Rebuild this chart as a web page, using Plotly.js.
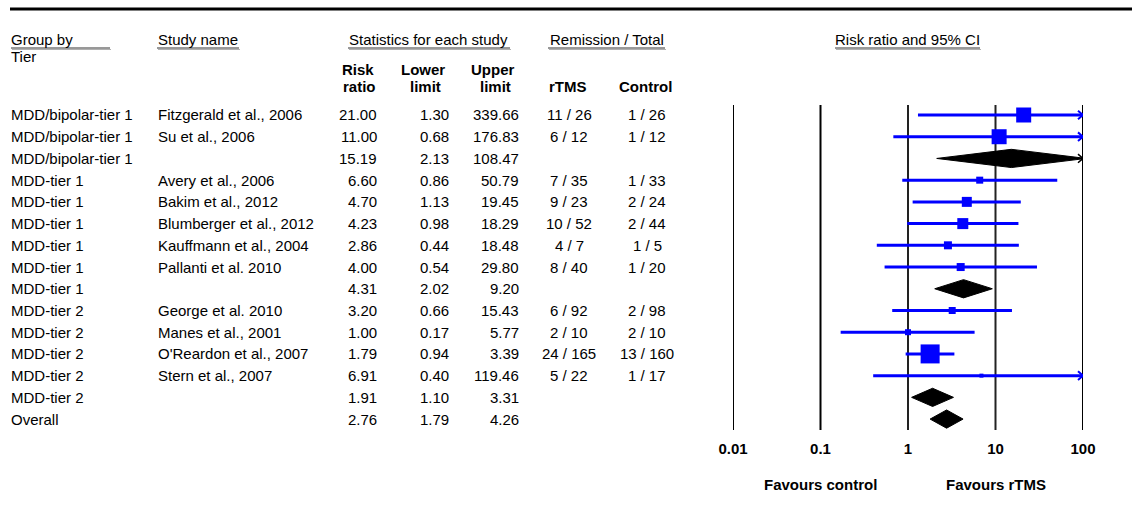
<!DOCTYPE html>
<html>
<head>
<meta charset="utf-8">
<script src="https://cdn.plot.ly/plotly-3.0.1.min.js"></script>
<style>html,body{margin:0;padding:0;background:#fff;}#chart{width:1132px;height:525px;}</style>
</head>
<body>
<div id="chart"></div>
<script>
// ---- data ----
const groups = ["MDD/bipolar-tier 1","MDD/bipolar-tier 1","MDD/bipolar-tier 1","MDD-tier 1","MDD-tier 1","MDD-tier 1","MDD-tier 1","MDD-tier 1","MDD-tier 1","MDD-tier 2","MDD-tier 2","MDD-tier 2","MDD-tier 2","MDD-tier 2","Overall"];
const studies = ["Fitzgerald et al., 2006","Su et al., 2006","","Avery et al., 2006","Bakim et al., 2012","Blumberger et al., 2012","Kauffmann et al., 2004","Pallanti et al. 2010","","George et al. 2010","Manes et al., 2001","O'Reardon et al., 2007","Stern et al., 2007","",""];
const riskRatio = [21.00,11.00,15.19,6.60,4.70,4.23,2.86,4.00,4.31,3.20,1.00,1.79,6.91,1.91,2.76];
const lowerLimit = [1.30,0.68,2.13,0.86,1.13,0.98,0.44,0.54,2.02,0.66,0.17,0.94,0.40,1.10,1.79];
const upperLimit = [339.66,176.83,108.47,50.79,19.45,18.29,18.48,29.80,9.20,15.43,5.77,3.39,119.46,3.31,4.26];
const rtmsRemission = ["11 / 26","6 / 12","","7 / 35","9 / 23","10 / 52","4 / 7","8 / 40","","6 / 92","2 / 10","24 / 165","5 / 22","",""];
const controlRemission = ["1 / 26","1 / 12","","1 / 33","2 / 24","2 / 44","1 / 5","1 / 20","","2 / 98","2 / 10","13 / 160","1 / 17","",""];
const studyWeight = [225,225,0,49,100,121,64,64,0,49,36,361,16,0,0];
const tickValues = [0.01,0.1,1,10,100];
const tickLabels = ["0.01","0.1","1","10","100"];

// ---- layout helpers ----
const W = 1132, H = 525;
const px = x => x / W;
const py = y => 1 - y / H;
const FONT = "Arial, 'Liberation Sans', sans-serif";
const BLUE = "#0000ff";
const n = riskRatio.length;
const xMin = 0.01, xMax = 100;
const decadePx = (1083 - 733) / 4;
const isSummary = studies.map(s => s === "");

// ---- traces ----
const traces = [];
const ciX = [], ciY = [];
const arrowX = [], arrowY = [];
const summaryArrowX = [], summaryArrowY = [];
const arrowLenLog = 5 / decadePx;
const arrowHalf = 0.2;
for (let i = 0; i < n; i++) {
  const over = upperLimit[i] > xMax;
  if (!isSummary[i]) {
    ciX.push(Math.max(lowerLimit[i], xMin), Math.min(upperLimit[i], xMax), null);
    ciY.push(i, i, null);
  }
  if (over) {
    const ax = isSummary[i] ? summaryArrowX : arrowX;
    const ay = isSummary[i] ? summaryArrowY : arrowY;
    const back = xMax / Math.pow(10, arrowLenLog);
    ax.push(back, xMax, back, null);
    ay.push(i - arrowHalf, i, i + arrowHalf, null);
  }
}
traces.push({x: ciX, y: ciY, mode: "lines", line: {color: BLUE, width: 3}, hoverinfo: "skip", cliponaxis: false});
traces.push({x: arrowX, y: arrowY, mode: "lines", line: {color: BLUE, width: 2}, hoverinfo: "skip", cliponaxis: false});

const sqX = [], sqY = [], sqS = [];
for (let i = 0; i < n; i++) {
  if (!isSummary[i]) { sqX.push(riskRatio[i]); sqY.push(i); sqS.push(Math.sqrt(studyWeight[i])); }
}
traces.push({x: sqX, y: sqY, mode: "markers", marker: {symbol: "square", size: sqS, color: BLUE, opacity: 1, line: {width: 0}}, hoverinfo: "x", cliponaxis: false});

const dh = 0.42;
for (let i = 0; i < n; i++) {
  if (!isSummary[i]) continue;
  const L = Math.log10(lowerLimit[i]), M = Math.log10(riskRatio[i]), U = Math.log10(upperLimit[i]);
  const cap = Math.log10(xMax);
  let xs, ys;
  if (U > cap) {
    const f = (U - cap) / (U - M);
    const hh = dh * f;
    xs = [L, M, cap, cap, M, L].map(v => Math.pow(10, v));
    ys = [i, i - dh, i - hh, i + hh, i + dh, i];
  } else {
    xs = [L, M, U, M, L].map(v => Math.pow(10, v));
    ys = [i, i - dh, i, i + dh, i];
  }
  traces.push({x: xs, y: ys, mode: "lines", fill: "toself", fillcolor: "#000", line: {color: "#000", width: 1}, hoverinfo: "skip"});
}
traces.push({x: summaryArrowX, y: summaryArrowY, mode: "lines", line: {color: "#000", width: 1.5}, hoverinfo: "skip", cliponaxis: false});

// ---- shapes ----
const shapes = [];
shapes.push({type: "line", xref: "paper", yref: "paper", x0: px(10), x1: px(1132), y0: py(9), y1: py(9), line: {color: "#000", width: 3}});
tickValues.forEach(v => {
  shapes.push({type: "line", xref: "x", yref: "y", x0: v, x1: v, y0: -0.46, y1: 14.55, line: {color: (v === 1 || v === 10) ? "#222" : "#000", width: 2}, layer: "below"});
});
const underlines = [[11,110],[157,239],[348,510],[548,665],[835,980]];
underlines.forEach(([a,b]) => {
  shapes.push({type: "line", xref: "paper", yref: "paper", x0: px(a), x1: px(b), y0: py(48), y1: py(48), line: {color: "#333", width: 1}});
  shapes.push({type: "line", xref: "paper", yref: "paper", x0: px(a+1), x1: px(b+1), y0: py(49.5), y1: py(49.5), line: {color: "#b0b0b0", width: 1}});
});

// ---- annotations ----
const ann = [];
const PADL = -2, PADR = 3;
const txt = (text, x, y, anchor, opts = {}) => Object.assign({
  text, x: px(x + (anchor === "left" ? PADL : anchor === "right" ? PADR : 0)), y: py(y),
  xref: "paper", yref: "paper", xanchor: anchor, yanchor: "middle",
  showarrow: false, font: {family: FONT, size: 15, color: "#000"}
}, opts);
ann.push(txt("Group by", 11, 40, "left"));
ann.push(txt("Tier", 11, 56, "left"));
ann.push(txt("Study name", 158, 40, "left"));
ann.push(txt("Statistics for each study", 429, 40, "center"));
ann.push(txt("Remission / Total", 606.5, 40, "center"));
ann.push(txt("Risk ratio and 95% CI", 907.5, 40, "center"));
const bold = {family: FONT, size: 15, color: "#000", weight: "bold"};
ann.push(txt("Risk", 358, 70, "center", {font: bold}));
ann.push(txt("ratio", 359, 86, "center", {font: bold}));
ann.push(txt("Lower", 423, 70, "center", {font: bold}));
ann.push(txt("limit", 425, 86, "center", {font: bold}));
ann.push(txt("Upper", 493, 70, "center", {font: bold}));
ann.push(txt("limit", 495, 86, "center", {font: bold}));
ann.push(txt("rTMS", 568, 86, "center", {font: bold}));
ann.push(txt("Control", 646, 86, "center", {font: bold}));
const cell = (text, x, i, anchor) => ({
  text, x: px(x + (anchor === "left" ? PADL : anchor === "right" ? PADR : 0)), y: i,
  xref: "paper", yref: "y", xanchor: anchor, yanchor: "middle",
  showarrow: false, font: {family: FONT, size: 15, color: "#000"}
});
for (let i = 0; i < n; i++) {
  ann.push(cell(groups[i], 11, i, "left"));
  if (studies[i]) ann.push(cell(studies[i], 158, i, "left"));
  ann.push(cell(riskRatio[i].toFixed(2), 376, i, "right"));
  ann.push(cell(lowerLimit[i].toFixed(2), 448, i, "right"));
  ann.push(cell(upperLimit[i].toFixed(2), 518, i, "right"));
  if (rtmsRemission[i]) ann.push(cell(rtmsRemission[i], 569, i, "center"));
  if (controlRemission[i]) ann.push(cell(controlRemission[i], 647, i, "center"));
}
ann.push({text: "Favours control", x: Math.log10(0.1), xref: "x", y: py(484), yref: "paper", xanchor: "center", yanchor: "middle", showarrow: false, font: bold});
ann.push({text: "Favours rTMS", x: Math.log10(10), xref: "x", y: py(484), yref: "paper", xanchor: "center", yanchor: "middle", showarrow: false, font: bold});

// ---- layout ----
const yTop = 115 - 0.5 * 21.72, yBot = 115 + 14.5 * 21.72;
const layout = {
  width: W, height: H,
  margin: {l: 0, r: 0, t: 0, b: 0, pad: 0},
  paper_bgcolor: "#fff", plot_bgcolor: "rgba(0,0,0,0)",
  showlegend: false,
  xaxis: {
    type: "log", range: [Math.log10(xMin), Math.log10(xMax)],
    domain: [px(733), px(1083)],
    showgrid: false, zeroline: false, showline: false,
    tickmode: "array", tickvals: tickValues, ticktext: tickLabels,
    ticks: "", ticklabelstandoff: 8,
    tickfont: {family: FONT, size: 15, color: "#000", weight: "bold"},
    fixedrange: true
  },
  yaxis: {
    range: [14.5, -0.5], domain: [py(yBot), py(yTop)],
    visible: false, fixedrange: true
  },
  shapes, annotations: ann
};
Plotly.newPlot("chart", traces, layout, {displayModeBar: false, staticPlot: true});
</script>
</body>
</html>
